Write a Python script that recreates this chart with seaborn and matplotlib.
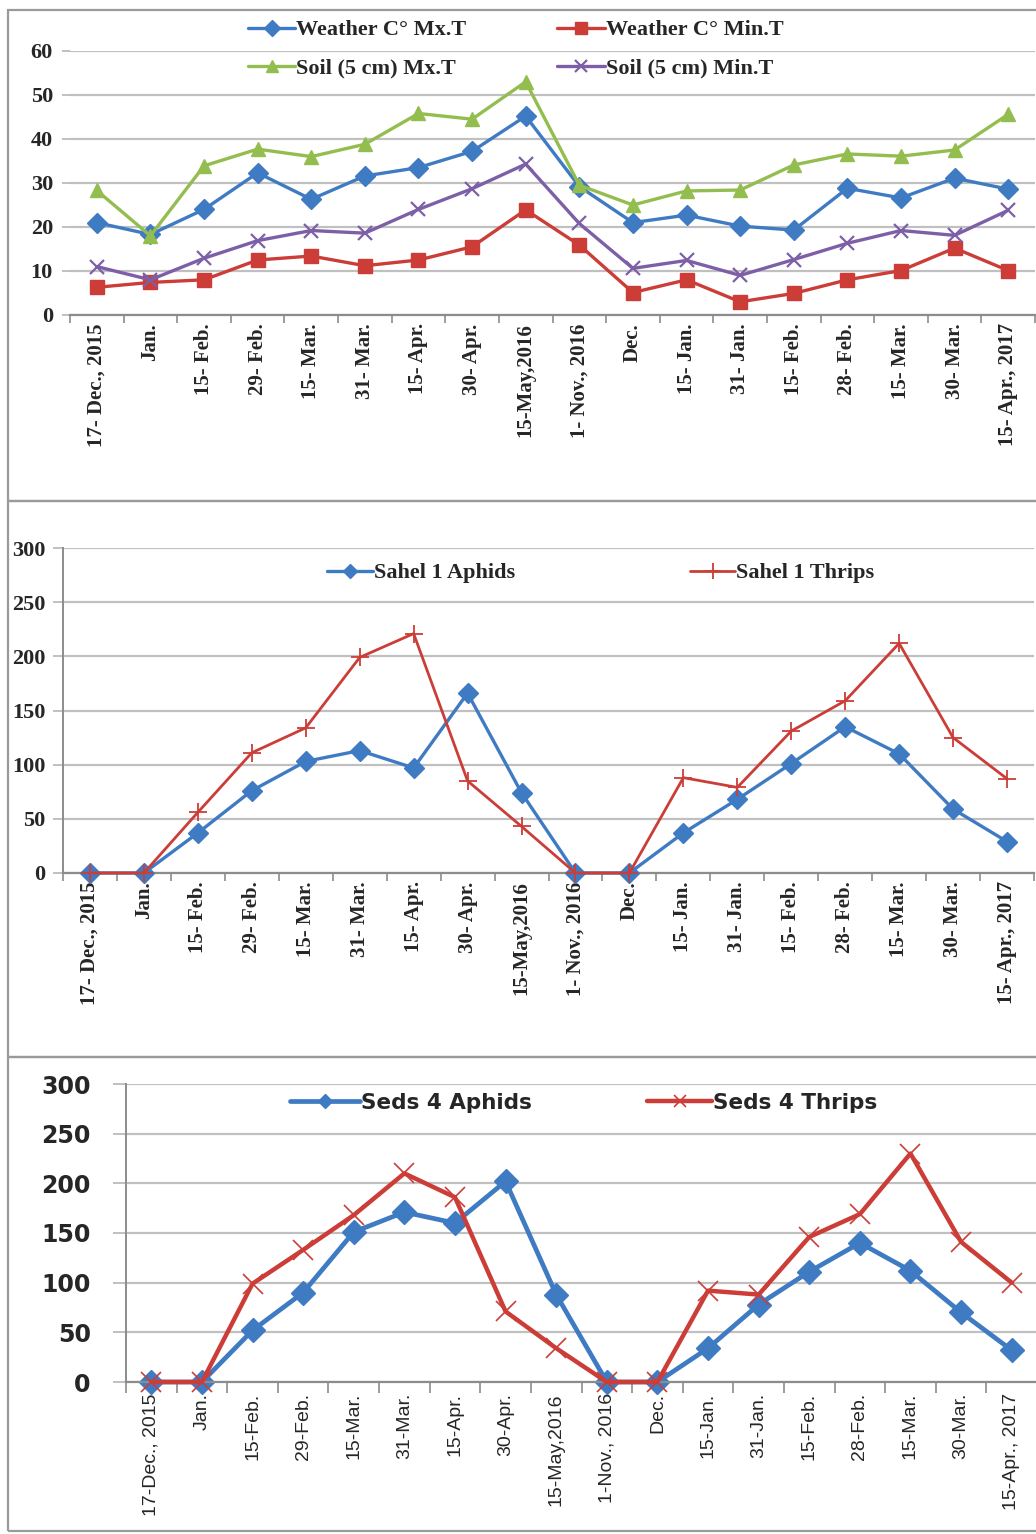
import matplotlib
matplotlib.use("Agg")
import matplotlib.pyplot as plt
from matplotlib import font_manager
from matplotlib.patches import Rectangle
from matplotlib.ticker import FixedLocator, NullFormatter
import numpy as np
import pandas as pd
import seaborn as sns

sns.set_style("white")
plt.rcParams["font.family"] = ["DejaVu Sans"]

# ---------------- data ----------------
dates = ["17- Dec., 2015", "Jan.", "15- Feb.", "29- Feb.", "15- Mar.", "31- Mar.",
         "15- Apr.", "30- Apr.", "15-May,2016", "1- Nov., 2016", "Dec.", "15- Jan.",
         "31- Jan.", "15- Feb.", "28- Feb.", "15- Mar.", "30- Mar.", "15- Apr., 2017"]
dates_bottom = ["17-Dec., 2015", "Jan.", "15-Feb.", "29-Feb.", "15-Mar.", "31-Mar.",
                "15-Apr.", "30-Apr.", "15-May,2016", "1-Nov., 2016", "Dec.", "15-Jan.",
                "31-Jan.", "15-Feb.", "28-Feb.", "15-Mar.", "30-Mar.", "15-Apr., 2017"]

weather_max = [21.0, 18.3, 24.0, 32.3, 26.3, 31.6, 33.5, 37.2, 45.2, 29.2,
               21.0, 22.7, 20.2, 19.3, 28.8, 26.6, 31.1, 28.6]
weather_min = [6.3, 7.4, 8.0, 12.5, 13.4, 11.2, 12.5, 15.5, 23.9, 15.9,
               5.1, 8.0, 3.0, 4.9, 8.0, 10.1, 15.2, 10.1]
soil_max = [28.3, 18.0, 33.9, 37.7, 36.0, 38.8, 45.8, 44.5, 53.0, 29.5,
            25.0, 28.2, 28.4, 34.1, 36.6, 36.1, 37.5, 45.6]
soil_min = [11.0, 8.0, 12.9, 16.9, 19.2, 18.6, 24.0, 28.7, 34.3, 20.8,
            10.6, 12.4, 9.0, 12.6, 16.3, 19.2, 18.1, 23.8]

sahel_aphids = [0, 0, 37, 76, 103, 113, 97, 166, 74, 0, 0, 37, 68, 101, 135, 110, 59, 29]
sahel_thrips = [0, 0, 56, 111, 134, 199, 221, 85, 43, 0, 0, 88, 79, 131, 159, 212, 125, 87]
seds_aphids = [0, 0, 52, 90, 151, 171, 160, 202, 88, 0, 0, 34, 78, 111, 140, 112, 70, 32]
seds_thrips = [0, 0, 99, 133, 168, 210, 186, 71, 34, 0, 0, 92, 88, 146, 169, 230, 141, 100]

pos = np.arange(len(dates))

# ---------------- fonts ----------------
def installed(name):
    try:
        font_manager.findfont(font_manager.FontProperties(family=name),
                              fallback_to_default=False)
        return True
    except Exception:
        return False

SERIF = ["Liberation Serif"] if installed("Liberation Serif") else ["DejaVu Serif"]
WIDE = ["DejaVu Sans"]
NARROW = ["Liberation Sans Narrow"] if installed("Liberation Sans Narrow") else ["Liberation Sans"]

BLUE, RED, GREEN, PURPLE = "#3F7BC3", "#CC3D38", "#93BE4F", "#7D5FA8"
GRID, AXIS = "#C0C0C0", "#8C8C8C"

W, H = 1036, 1534
fig = plt.figure(figsize=(W / 100, H / 100), dpi=100)


def px_rect(x0, y0, x1, y1):
    return [x0 / W, 1 - y1 / H, (x1 - x0) / W, (y1 - y0) / H]


# panel frames
for (y0, y1) in [(10, 501), (501, 1057), (1057, 1531)]:
    fig.patches.append(Rectangle((8 / W, 1 - y1 / H), 1.2, (y1 - y0) / H,
                                 transform=fig.transFigure, fill=False,
                                 edgecolor="#9A9A9A", linewidth=1.6, zorder=0))


def style_axes(ax, ymax, ystep, tick_px, pad_pt, yfont, xfont, labels,
               left_spine):
    ax.set_xlim(-0.5, len(labels) - 0.5)
    ax.set_ylim(0, ymax)
    ax.set_yticks(np.arange(0, ymax + 1, ystep))
    ax.yaxis.grid(True, color=GRID, linewidth=1.6)
    ax.xaxis.grid(False)
    ax.set_axisbelow(True)
    for s in ["top", "right"]:
        ax.spines[s].set_visible(False)
    ax.spines["left"].set_visible(left_spine)
    ax.spines["left"].set_color(AXIS)
    ax.spines["left"].set_linewidth(1.4)
    ax.spines["bottom"].set_color(AXIS)
    ax.spines["bottom"].set_linewidth(1.6)
    ax.tick_params(axis="y", length=tick_px * 0.72, width=1.4, color=GRID,
                   pad=pad_pt, left=True)
    for t in ax.get_yticklabels():
        t.set_fontproperties(yfont)
    ax.set_xticks(pos)
    ax.set_xticklabels(labels, rotation=90, va="top", ha="center",
                       fontproperties=xfont)
    ax.tick_params(axis="x", which="major", length=0, pad=6)
    ax.xaxis.set_minor_locator(FixedLocator(np.arange(-0.5, len(labels), 1.0)))
    ax.xaxis.set_minor_formatter(NullFormatter())
    ax.tick_params(axis="x", which="minor", length=6, width=1.2, color=AXIS,
                   bottom=True)
    ax.set_xlabel("")
    ax.set_ylabel("")


def line(ax, y, marker, ms, color, lw, mew=1.0, z=3):
    sns.lineplot(x=pos, y=y, ax=ax, color=color, linewidth=lw, marker=marker,
                 markersize=ms, markeredgecolor=color, markerfacecolor=color,
                 markeredgewidth=mew, legend=False, zorder=z, clip_on=False)


def entry(handle, text, x0, x1, y, fprops, mscale=0.8):
    fs_px = fprops.get_size_in_points() / 72 * 100
    fig.legend(handles=[handle], labels=[text], loc="center left",
               bbox_to_anchor=(x0 / W, 1 - y / H), frameon=False,
               borderpad=0, borderaxespad=0, handletextpad=0.05,
               handlelength=(x1 - x0) / fs_px, numpoints=1, prop=fprops,
               markerscale=mscale)


# ---------------- panel 1: temperatures ----------------
ax1 = fig.add_axes(px_rect(70, 51, 1035, 315))
line(ax1, weather_max, "D", 10, BLUE, 2.4)
line(ax1, weather_min, "s", 10, RED, 2.4)
line(ax1, soil_max, "^", 10.5, GREEN, 2.4)
line(ax1, soil_min, "x", 10, PURPLE, 2.4, mew=1.6)
style_axes(ax1, 60, 10, 8, 6.5,
           font_manager.FontProperties(family=SERIF, weight="bold", size=16),
           font_manager.FontProperties(family=SERIF, weight="bold", size=15),
           dates, left_spine=False)

p1_leg = font_manager.FontProperties(family=SERIF, weight="bold", size=16)
h = ax1.get_lines()
entry(h[0], "Weather C° Mx.T", 248, 295, 30, p1_leg)
entry(h[1], "Weather C° Min.T", 557, 605, 30, p1_leg)
entry(h[2], "Soil (5 cm) Mx.T", 248, 295, 68, p1_leg)
entry(h[3], "Soil (5 cm) Min.T", 557, 605, 68, p1_leg)

# ---------------- panel 2: Sahel 1 ----------------
ax2 = fig.add_axes(px_rect(63, 548, 1034, 873))
line(ax2, sahel_aphids, "D", 10, BLUE, 2.4)
line(ax2, sahel_thrips, "+", 13, RED, 2.0, mew=1.3)
style_axes(ax2, 300, 50, 10, 5.5,
           font_manager.FontProperties(family=SERIF, weight="bold", size=16),
           font_manager.FontProperties(family=SERIF, weight="bold", size=15),
           dates, left_spine=True)
p2_leg = font_manager.FontProperties(family=SERIF, weight="bold", size=16)
h = ax2.get_lines()
entry(h[0], "Sahel 1 Aphids", 327, 373, 573, p2_leg, mscale=0.75)
entry(h[1], "Sahel 1 Thrips", 690, 735, 573, p2_leg, mscale=0.9)

# ---------------- panel 3: Seds 4 ----------------
ax3 = fig.add_axes(px_rect(126, 1084, 1037, 1382))
line(ax3, seds_thrips, "x", 15, RED, 3.2, mew=1.2, z=3)
line(ax3, seds_aphids, "D", 12.5, BLUE, 3.4, z=2)
style_axes(ax3, 300, 50, 13, 16,
           font_manager.FontProperties(family=WIDE, weight="bold", size=17),
           font_manager.FontProperties(family=NARROW, size=14),
           dates_bottom, left_spine=True)
ax3.tick_params(axis="x", which="minor", length=8)
ax3.tick_params(axis="x", which="major", pad=8)
p3_leg = font_manager.FontProperties(family=WIDE, weight="bold", size=15.5)
h = ax3.get_lines()
entry(h[1], "Seds 4 Aphids", 290, 360, 1103, p3_leg, mscale=0.6)
entry(h[0], "Seds 4 Thrips", 647, 712, 1103, p3_leg, mscale=0.6)

fig.savefig("out.png", dpi=100)
